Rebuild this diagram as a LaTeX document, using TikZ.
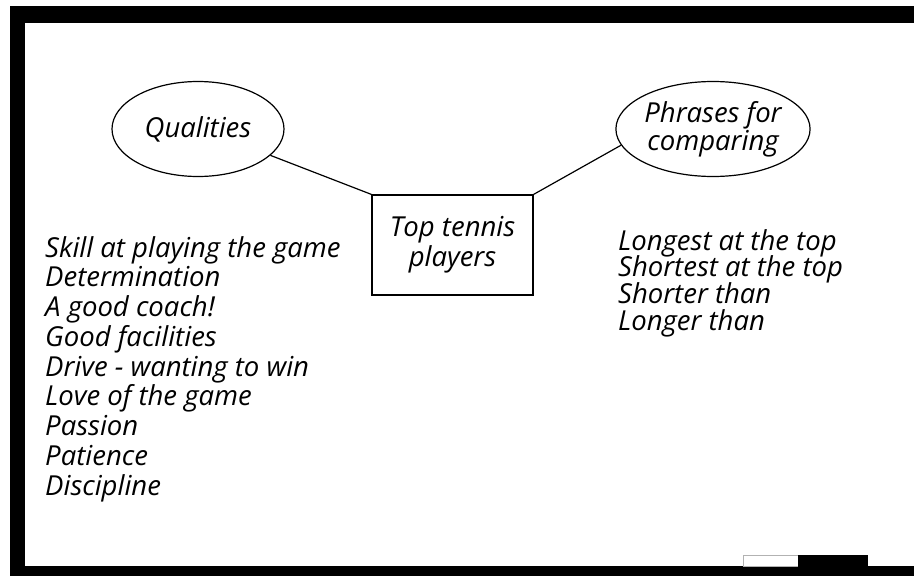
\documentclass[tikz,border=0pt]{standalone}
\usepackage{fontspec}
\setmainfont{Open Sans}
\usetikzlibrary{shapes.geometric}

\begin{document}
\begin{tikzpicture}[
  x=1pt, y=-1pt,
  bubble/.style={
    draw=black, ellipse, line width=1.2pt, inner sep=0pt,
    minimum width=#1, minimum height=95pt,
    font=\itshape\fontsize{27.5}{28}\selectfont, align=center
  },
  topic/.style={
    draw=black, line width=1.2pt, inner sep=0pt,
    minimum width=161pt, minimum height=100pt,
    font=\itshape\fontsize{27.5}{30}\selectfont, align=center
  },
  listtxt/.style={
    anchor=base west, inner sep=0pt,
    font=\itshape\fontsize{27.5}{30}\selectfont
  },
  link/.style={
    -, line width=1.2pt, color=black
  }
]

% Frame
\useasboundingbox (0,0) rectangle (914,576);
\fill[white] (0,0) rectangle (914,576);
\fill[black] (10,6) rectangle (914,23);
\fill[black] (10,6) rectangle (25,576);
\fill[black] (10,566) rectangle (914,576);
\draw[gray!60, fill=white, line width=0.8pt] (743,555) rectangle (798,566);
\fill[black] (798,555) rectangle (868,576);

% Mind map
\node[bubble=172pt] (qual) at (198,129) {Qualities};
\node[bubble=176pt] (phr)  at (713,129) {Phrases for\\comparing};
\node[topic]        (top)  at (452.5,245) {Top tennis\\players};

% Links
\draw[link] (qual.340) -- (top.north west);
\draw[link] (phr.190)  -- (top.north east);

% Qualities list
\foreach \txt [count=\i] in {Skill at playing the game, Determination,
    A good coach!, Good facilities, Drive - wanting to win,
    Love of the game, Passion, Patience, Discipline}
  \node[listtxt] (q\i) at (45, 257+29.75*\i-29.75) {\txt};

% Phrases list
\foreach \txt [count=\i] in {Longest at the top, Shortest at the top,
    Shorter than, Longer than}
  \node[listtxt] (p\i) at (618, 250+26.7*\i-26.7) {\txt};

\end{tikzpicture}
\end{document}
